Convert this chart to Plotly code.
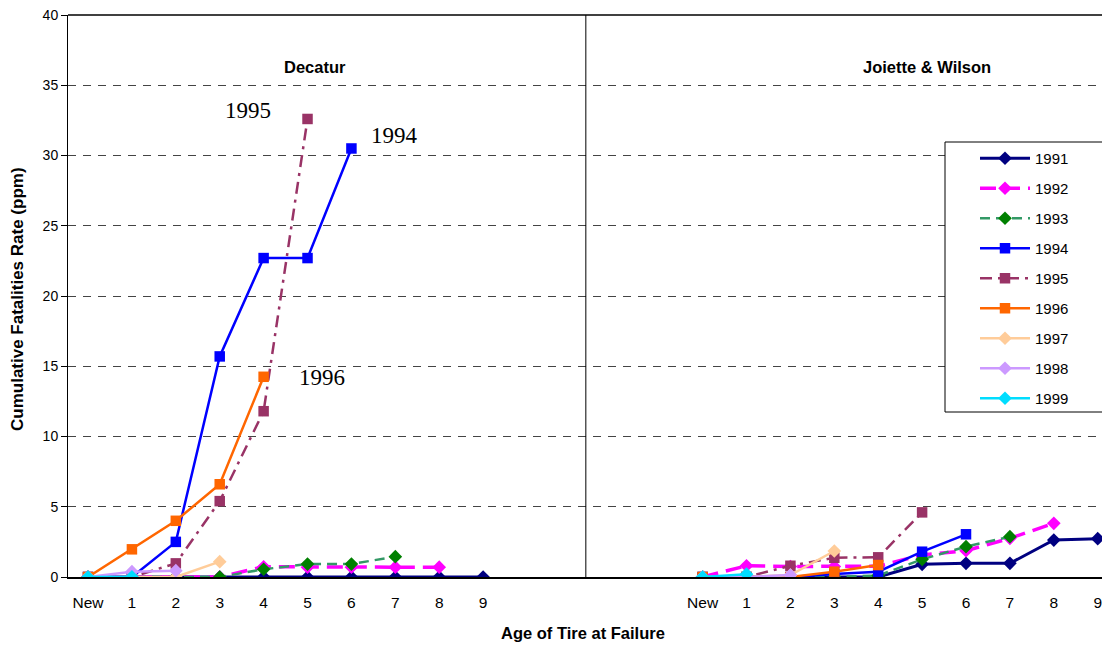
import plotly.graph_objects as go

categories = ["New", "1", "2", "3", "4", "5", "6", "7", "8", "9"]
years = ["1991", "1992", "1993", "1994", "1995", "1996", "1997", "1998", "1999"]

# Decatur (left panel)
decatur = {
    "1991": [0, 0, 0, 0, 0, 0, 0, 0, 0, 0],
    "1992": [0, 0, 0, 0, 0.73, 0.7, 0.7, 0.7, 0.7],
    "1993": [0, 0, 0, 0, 0.55, 0.92, 0.92, 1.45],
    "1994": [0, 0, 2.5, 15.7, 22.7, 22.7, 30.5],
    "1995": [0, 0, 0.97, 5.4, 11.8, 32.6],
    "1996": [0, 1.97, 4.0, 6.6, 14.25],
    "1997": [0, 0, 0, 1.09],
    "1998": [0, 0.38, 0.45],
    "1999": [0, 0.02],
}

# Joiette & Wilson (right panel)
joiette = {
    "1991": [0, 0, 0, 0, 0, 0.9, 0.97, 0.97, 2.63, 2.73],
    "1992": [0, 0.8, 0.75, 0.75, 0.77, 1.57, 1.87, 2.75, 3.82],
    "1993": [0, 0, 0, 0, 0.1, 1.26, 2.16, 2.87],
    "1994": [0, 0, 0, 0.21, 0.38, 1.8, 3.04],
    "1995": [0, 0, 0.8, 1.37, 1.4, 4.6],
    "1996": [0, 0, 0, 0.38, 0.85],
    "1997": [0, 0, 0.14, 1.85],
    "1998": [0, 0, 0.14],
    "1999": [0, 0.2],
}

panel_titles = ["Decatur", "Joiette & Wilson"]
panel_offsets = [0, 14]

styles = {
    "1991": dict(line="#000080", marker="#000080", symbol="diamond", dash="solid", width=3),
    "1992": dict(line="#FF00FF", marker="#FF00FF", symbol="diamond", dash="16px,8px", width=3.5),
    "1993": dict(line="#339966", marker="#008000", symbol="diamond", dash="10px,6px", width=2.5),
    "1994": dict(line="#0000FF", marker="#0000FF", symbol="square", dash="solid", width=2.5),
    "1995": dict(line="#993366", marker="#993366", symbol="square", dash="12px,6px,3px,6px", width=2.5),
    "1996": dict(line="#FF6600", marker="#FF6600", symbol="square", dash="solid", width=2.5),
    "1997": dict(line="#FFCC99", marker="#FFCC99", symbol="diamond", dash="solid", width=2.5),
    "1998": dict(line="#CC99FF", marker="#CC99FF", symbol="diamond", dash="solid", width=2.5),
    "1999": dict(line="#00DDFF", marker="#00DDFF", symbol="diamond", dash="solid", width=2.5),
}

fig = go.Figure()
for yr in years:
    st = styles[yr]
    for p, data in enumerate([decatur, joiette]):
        vals = data[yr]
        xs = [panel_offsets[p] + i for i in range(len(vals))]
        fig.add_trace(go.Scatter(
            x=xs, y=vals, mode="lines+markers", name=yr,
            legendgroup=yr, showlegend=(p == 0),
            line=dict(color=st["line"], width=st["width"], dash=st["dash"]),
            marker=dict(symbol=st["symbol"], size=10.5,
                        color=st["marker"], line=dict(width=0)),
        ))

tickvals = [o + i for o in panel_offsets for i in range(len(categories))]
ticktext = categories * 2

font = "Liberation Sans, Arial, sans-serif"
# page-pixel geometry of the plot area (page has an 8px body offset)
W, L, T, B = 1042, 68, 15, 577
H = B - T
fig.update_layout(
    width=1102, height=638,
    margin=dict(l=60, r=0, t=7, b=69, autoexpand=False),
    plot_bgcolor="white", paper_bgcolor="white",
    font=dict(family=font, color="black", size=15),
    xaxis=dict(range=[-0.456, 23.28], tickvals=tickvals, ticktext=ticktext,
               showgrid=False, zeroline=False, showline=True, linecolor="black",
               linewidth=1.5, ticks="", ticklabelstandoff=11, tickfont=dict(size=15.5),
               ticklabeloverflow="allow"),
    yaxis=dict(range=[0, 40], dtick=5, showgrid=True, gridcolor="#444444",
               griddash="8px,7px", gridwidth=1, zeroline=False, showline=True,
               linecolor="black", linewidth=1, ticks="outside", ticklen=6,
               tickcolor="black", tickfont=dict(size=14), ticklabeloverflow="allow"),
    legend=dict(x=(975 - L) / W, y=(B - 142) / H, xanchor="left", yanchor="top",
                borderwidth=0, bgcolor="rgba(0,0,0,0)",
                font=dict(size=15, family=font), tracegroupgap=7.5, itemwidth=50),
    showlegend=True,
)

fig.add_shape(type="rect", xref="paper", yref="paper",
              x0=(945 - L) / W, x1=(1103 - L) / W, y0=(B - 412) / H, y1=(B - 142) / H,
              line=dict(color="black", width=1), fillcolor="white", layer="above")
fig.add_shape(type="line", xref="paper", yref="paper", x0=0, x1=1, y0=1, y1=1,
              line=dict(color="black", width=1.5))
fig.add_shape(type="line", xref="x", yref="paper", x0=11.34, x1=11.34, y0=0, y1=1,
              line=dict(color="black", width=1))

title_x = [5.18, 19.1]
for t, xv in zip(panel_titles, title_x):
    fig.add_annotation(x=xv, y=(B - 67) / H, xref="x", yref="paper", text="<b>%s</b>" % t,
                       showarrow=False, xanchor="center", yanchor="middle",
                       font=dict(size=16.5, family=font))

for txt, xv, yv in [("1995", 3.64, 33.2), ("1994", 6.97, 31.4), ("1996", 5.33, 14.2)]:
    fig.add_annotation(x=xv, y=yv, text=txt, showarrow=False, xanchor="center", yanchor="middle",
                       font=dict(size=23, family="Liberation Serif, Times New Roman, serif"))

fig.add_annotation(x=(583 - L) / W, y=-56 / H, xref="paper", yref="paper",
                   text="<b>Age of Tire at Failure</b>", showarrow=False,
                   xanchor="center", yanchor="middle", font=dict(size=16.5, family=font))
fig.add_annotation(x=(18 - L) / W, y=(B - 299) / H, xref="paper", yref="paper",
                   text="<b>Cumulative Fatalities Rate (ppm)</b>", textangle=-90,
                   showarrow=False, xanchor="center", yanchor="middle",
                   font=dict(size=17, family=font))

fig.write_html("out.html")
